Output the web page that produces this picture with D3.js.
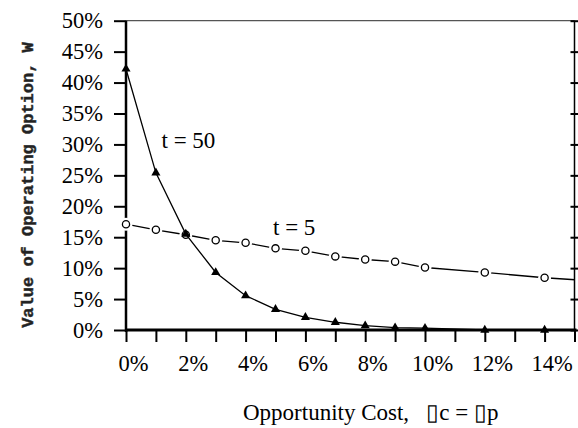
<!DOCTYPE html>
<html><head><meta charset="utf-8">
<script src="https://cdn.jsdelivr.net/npm/d3@7"></script>
<style>body{margin:0;background:#fff}svg{display:block}</style>
</head><body>
<script>
const xCost = [0,1,2,3,4,5,6,7,8,9,10,12,14];
const t50 = [42.2,25.4,15.5,9.3,5.55,3.35,2.05,1.25,0.7,0.37,0.3,0,0];
const xCost5 = [0,1,2,3,4,5,6,7,8,9,10,12,14,16];
const t5 = [17.1,16.2,15.4,14.5,14.1,13.2,12.8,11.9,11.4,11.05,10.1,9.3,8.45,7.8];
const yTicks = [0,5,10,15,20,25,30,35,40,45,50];
const xLabelTicks = [0,2,4,6,8,10,12,14];
const xMinorTicks = [0,1,2,3,4,5,6,7,8,9,10,11,12,13,14,15];
const seriesLabels = ["t = 50","t = 5"];
const yTitle = "Value of Operating Option, W";
const xTitle = "Opportunity Cost,   \u25AFc = \u25AFp";

const W=578,H=428;
const svg=d3.select("body").append("svg").attr("width",W).attr("height",H);
const x=d3.scaleLinear().domain([0,15]).range([126,574.5]);
const y=d3.scaleLinear().domain([0,50]).range([330,20.7]);
const SERIF='"Liberation Serif","Times New Roman",serif';

svg.append("clipPath").attr("id","c").append("rect")
  .attr("x",x(0)-8).attr("y",0).attr("width",x(15)-x(0)+8).attr("height",H);

// top border
svg.append("line").attr("x1",x(0)).attr("x2",x(15)).attr("y1",y(50)).attr("y2",y(50))
  .attr("stroke","#555").attr("stroke-width",1.2);

// right axis
const ra=svg.append("g").attr("transform",`translate(${x(15)},0)`)
  .call(d3.axisRight(y).tickValues(yTicks).tickSize(4).tickFormat(""));
ra.select(".domain").remove();
ra.selectAll(".tick line").attr("x1",-4).attr("stroke","#000").attr("stroke-width",2);
svg.append("line").attr("x1",x(15)).attr("x2",x(15)).attr("y1",y(50)).attr("y2",y(0))
  .attr("stroke","#000").attr("stroke-width",1.5);

// left axis
const la=svg.append("g").attr("transform",`translate(${x(0)},0)`)
  .call(d3.axisLeft(y).tickValues(yTicks).tickSize(12).tickPadding(11).tickFormat(d=>d+"%"));
la.attr("font-family",null).attr("font-size",null);
la.select(".domain").remove();
la.selectAll(".tick line").attr("stroke","#000").attr("stroke-width",2);
la.selectAll(".tick text").style("font-family",SERIF).style("font-size","22.5px").attr("fill","#000");
svg.append("line").attr("x1",x(0)).attr("x2",x(0)).attr("y1",y(50)).attr("y2",y(0)+2)
  .attr("stroke","#000").attr("stroke-width",2.5);

// bottom axis ticks
const ba=svg.append("g").attr("transform",`translate(0,${y(0)})`)
  .call(d3.axisBottom(x).tickValues(xMinorTicks).tickSize(12).tickFormat(""));
ba.select(".domain").remove();
ba.selectAll(".tick line").attr("stroke","#000").attr("stroke-width",2);
const bl=svg.append("g").attr("transform",`translate(7,${y(0)})`)
  .call(d3.axisBottom(x).tickValues(xLabelTicks).tickSize(0).tickPadding(25).tickFormat(d=>d+"%"));
bl.attr("font-family",null).attr("font-size",null);
bl.select(".domain").remove();
bl.selectAll(".tick text").style("font-family",SERIF).style("font-size","22.5px").attr("fill","#000");

const g=svg.append("g").attr("clip-path","url(#c)");
// t=5 line
const p5=xCost5.map((d,i)=>[d,t5[i]]);
g.append("path").datum(p5)
  .attr("d",d3.line().x(d=>x(d[0])).y(d=>y(d[1])))
  .attr("fill","none").attr("stroke","#000").attr("stroke-width",1.3);
g.selectAll("circle.h").data(p5).join("circle").attr("class","h")
  .attr("cx",d=>x(d[0])).attr("cy",d=>y(d[1])).attr("r",6.5).attr("fill","#fff");
g.selectAll("circle.m").data(p5).join("circle").attr("class","m")
  .attr("cx",d=>x(d[0])).attr("cy",d=>y(d[1])).attr("r",3.6).attr("fill","#fff")
  .attr("stroke","#000").attr("stroke-width",1.3);

// t=50
const p50=xCost.map((d,i)=>[d,t50[i]]);
g.append("path").datum(p50)
  .attr("d",d3.line().x(d=>x(d[0])).y(d=>y(d[1])))
  .attr("fill","none").attr("stroke","#000").attr("stroke-width",1.3);
const tri=d3.symbol().type(d3.symbolTriangle).size(36);
g.selectAll("path.t").data(p50).join("path").attr("class","t")
  .attr("d",tri).attr("transform",d=>`translate(${x(d[0])},${y(d[1])})`).attr("fill","#000");

// bottom axis line
svg.append("line").attr("x1",x(0)-1).attr("x2",x(15)+2).attr("y1",y(0)).attr("y2",y(0))
  .attr("stroke","#000").attr("stroke-width",3);

// series labels
svg.append("text").attr("x",161.5).attr("y",148).text(seriesLabels[0])
  .style("font-family",SERIF).style("font-size","23px").attr("fill","#000");
svg.append("text").attr("x",273).attr("y",235).text(seriesLabels[1])
  .style("font-family",SERIF).style("font-size","23px").attr("fill","#000");

// titles
svg.append("text").attr("transform","translate(33,185) rotate(-90)").attr("text-anchor","middle")
  .style("font-family",'"Liberation Mono","Courier New",monospace').style("font-weight","bold")
  .style("font-size","17px").attr("fill","#222").attr("stroke","#333").attr("stroke-width",0.5)
  .text(yTitle);
svg.append("text").attr("x",243).attr("y",420)
  .style("font-family",SERIF).style("font-size","23px").style("white-space","pre")
  .attr("fill","#000").text(xTitle);
</script>
</body></html>
